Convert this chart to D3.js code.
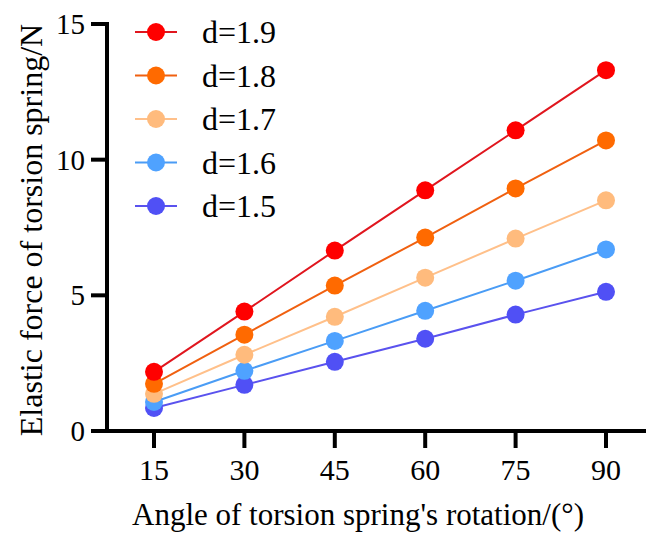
<!DOCTYPE html>
<html>
<head>
<meta charset="utf-8">
<script src="https://cdn.jsdelivr.net/npm/d3@7"></script>
<style>
  body { margin: 0; background: #fff; }
  text { font-family: "Liberation Serif", "Times New Roman", serif; fill: #000; }
</style>
</head>
<body>
<svg width="648" height="534"></svg>
<script>
var angles = [15, 30, 45, 60, 75, 90];
var seriesNames = ["d=1.9", "d=1.8", "d=1.7", "d=1.6", "d=1.5"];
var d19 = [2.18, 4.40, 6.65, 8.87, 11.08, 13.30];
var d18 = [1.74, 3.55, 5.36, 7.13, 8.94, 10.71];
var d17 = [1.37, 2.81, 4.21, 5.65, 7.09, 8.50];
var d16 = [1.07, 2.22, 3.32, 4.43, 5.54, 6.69];
var d15 = [0.85, 1.70, 2.55, 3.40, 4.29, 5.13];
var colors = ["#ff0000", "#ff6a00", "#ffbb7d", "#4fa2ff", "#5050f5"];
var lineColors = ["#e0161e", "#f06010", "#ffc08a", "#4a9cf5", "#5a52ee"];
var yTicks = [0, 5, 10, 15];

var series = [d19, d18, d17, d16, d15].map(function (v, i) {
  return { name: seriesNames[i], values: v, color: colors[i], line: lineColors[i] };
});

var svg = d3.select("svg");

var x = d3.scaleLinear().domain([15, 90]).range([154, 606]);
var y = d3.scaleLinear().domain([0, 15]).range([431, 24]);

// x axis
var xAxis = svg.append("g").attr("transform", "translate(0,431)");
xAxis.append("line")
  .attr("x1", 105).attr("x2", 646)
  .attr("stroke", "#000").attr("stroke-width", 4);
xAxis.selectAll("line.tick")
  .data(angles).enter().append("line")
  .attr("class", "tick")
  .attr("x1", function (d) { return x(d); })
  .attr("x2", function (d) { return x(d); })
  .attr("y1", 0).attr("y2", 17)
  .attr("stroke", "#000").attr("stroke-width", 4);
xAxis.selectAll("text")
  .data(angles).enter().append("text")
  .attr("x", function (d) { return x(d); })
  .attr("y", 49)
  .attr("text-anchor", "middle")
  .style("font-size", "30px")
  .text(function (d) { return d; });

// y axis
var yAxis = svg.append("g").attr("transform", "translate(107,0)");
yAxis.append("line")
  .attr("y1", y(15) - 2).attr("y2", 433)
  .attr("stroke", "#000").attr("stroke-width", 4);
yAxis.selectAll("line.tick")
  .data(yTicks).enter().append("line")
  .attr("class", "tick")
  .attr("x1", -16).attr("x2", 0)
  .attr("y1", function (d) { return y(d); })
  .attr("y2", function (d) { return y(d); })
  .attr("stroke", "#000").attr("stroke-width", 4);
yAxis.selectAll("text")
  .data(yTicks).enter().append("text")
  .attr("x", -22)
  .attr("y", function (d) { return y(d) + 10; })
  .attr("text-anchor", "end")
  .style("font-size", "29px")
  .text(function (d) { return d; });

// titles
svg.append("text")
  .attr("x", 358).attr("y", 525)
  .attr("text-anchor", "middle")
  .style("font-size", "31px")
  .text("Angle of torsion spring's rotation/(°)");

svg.append("text")
  .attr("transform", "translate(42,230) rotate(-90)")
  .attr("text-anchor", "middle")
  .style("font-size", "32px")
  .text("Elastic force of torsion spring/N");

// lines and points
var line = d3.line()
  .x(function (d, i) { return x(angles[i]); })
  .y(function (d) { return y(d); });

var g = svg.selectAll("g.series")
  .data(series.slice().reverse())
  .enter().append("g").attr("class", "series");

g.append("path")
  .attr("d", function (d) { return line(d.values); })
  .attr("fill", "none")
  .attr("stroke", function (d) { return d.line; })
  .attr("stroke-width", 2);

g.selectAll("circle")
  .data(function (d) { return d.values.map(function (v, i) { return { v: v, i: i, c: d.color }; }); })
  .enter().append("circle")
  .attr("cx", function (d) { return x(angles[d.i]); })
  .attr("cy", function (d) { return y(d.v); })
  .attr("r", 9)
  .attr("fill", function (d) { return d.c; });

// legend
var legend = svg.selectAll("g.legend")
  .data(series).enter().append("g")
  .attr("class", "legend")
  .attr("transform", function (d, i) { return "translate(156," + (32 + i * 43.5) + ")"; });
legend.append("line")
  .attr("x1", -21).attr("x2", 21)
  .attr("stroke", function (d) { return d.line; })
  .attr("stroke-width", 2);
legend.append("circle")
  .attr("r", 9)
  .attr("fill", function (d) { return d.color; });
legend.append("text")
  .attr("x", 46).attr("y", 11)
  .style("font-size", "32px")
  .text(function (d) { return d.name; });
</script>
</body>
</html>
